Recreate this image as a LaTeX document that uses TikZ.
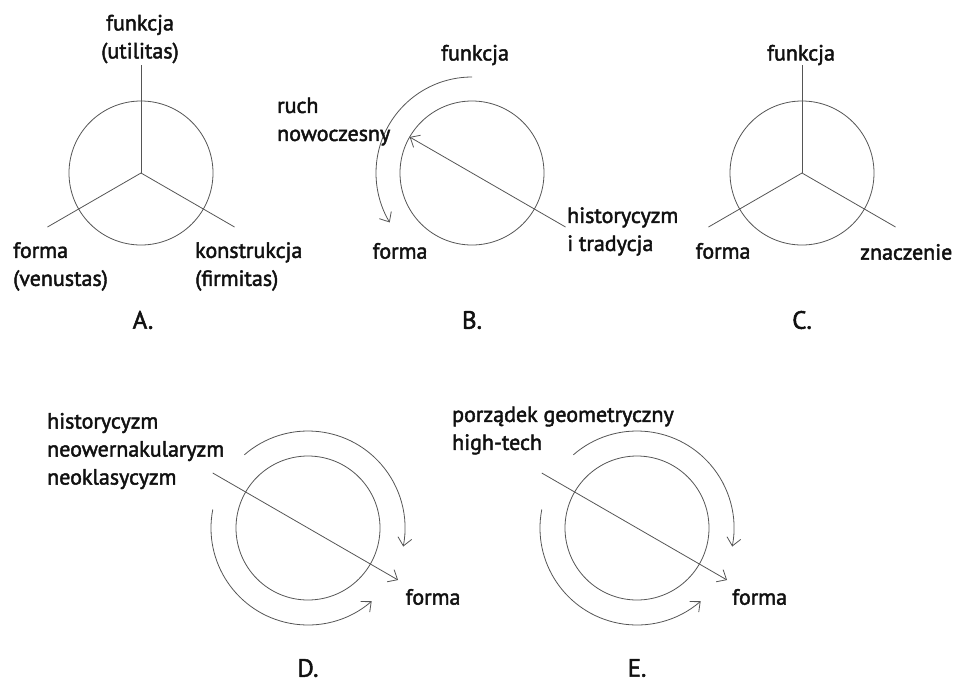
\documentclass[tikz,border=0pt]{standalone}
\usepackage{fontspec}
\setmainfont{PT Sans}[FakeBold=2]
\usepackage{tikz}
\usetikzlibrary{arrows.meta, calc}
\definecolor{inkline}{HTML}{555555}
\definecolor{inktext}{HTML}{111111}
\tikzstyle{ring} = [circle, draw=inkline, line width=0.8pt, minimum size=144pt, inner sep=0pt, outer sep=0pt]
\tikzstyle{spoke} = [draw=inkline, line width=0.8pt]
\tikzstyle{flow} = [draw=inkline, line width=0.8pt, -{Straight Barb[length=8pt, width=14pt]}]
\tikzstyle{lbl} = [inner sep=0pt, text=inktext, font=\fontsize{22}{28}\selectfont]
\tikzstyle{tag} = [inner sep=0pt, text=inktext, font=\fontsize{25}{30}\selectfont]

\begin{document}
\begin{tikzpicture}[x=1pt, y=1pt]
    \useasboundingbox (0,0) rectangle (957,-686);

    \node[ring] (kA) at (141,-173) {};
    \node[ring] (kB) at (472,-173) {};
    \node[ring] (kC) at (802,-173) {};
    \node[ring] (kD) at (308,-528) {};
    \node[ring] (kE) at (637,-528) {};

    \foreach \k in {kA, kC} {
        \foreach \a in {90, 210, 330} {
            \coordinate (\k-\a) at ($(\k.center)+(\a:108)$);
            \draw[spoke] (\k.center) -- (\k-\a);
        }
    }

    \coordinate (bArcS) at ($(kB.center)+(90:96)$);
    \coordinate (bTail) at ($(kB.center)+(-30:108)$);
    \draw[flow] (bArcS) arc[start angle=90, end angle=211, radius=96];
    \draw[flow] (bTail) -- (kB.150);

    \foreach \k in {kD, kE} {
        \coordinate (\k-top) at ($(\k.center)+(131:97)$);
        \coordinate (\k-bot) at ($(\k.center)+(169:97)$);
        \coordinate (\k-tail) at ($(\k.center)+(150:110)$);
        \coordinate (\k-tip) at ($(\k.center)+(-30:104)$);
        \draw[flow] (\k-top) arc[start angle=131, end angle=-11, radius=97];
        \draw[flow] (\k-bot) arc[start angle=169, end angle=311, radius=97];
        \draw[flow] (\k-tail) -- (\k-tip);
    }

    \node[lbl, align=center] (aFun) at (140,-39) {funkcja\\(utilitas)};
    \node[lbl, align=left, anchor=west] (aFor) at (13,-266.5) {forma\\(venustas)};
    \node[lbl, align=left, anchor=west] (aKon) at (195,-266.5) {konstrukcja\\(firmitas)};
    \node[tag] (aTag) at (143,-320) {A.};

    \node[lbl] (bFun) at (475,-55) {funkcja};
    \node[lbl, align=left, anchor=west] (bRuch) at (277,-121.5) {ruch\\nowoczesny};
    \node[lbl, align=left, anchor=west] (bHis) at (567,-231.5) {historycyzm\\i tradycja};
    \node[lbl] (bFor) at (400,-251) {forma};
    \node[tag] (bTag) at (472,-320) {B.};

    \node[lbl] (cFun) at (801,-55) {funkcja};
    \node[lbl] (cFor) at (723,-251) {forma};
    \node[lbl, anchor=west] (cZna) at (860,-252) {znaczenie};
    \node[tag] (cTag) at (802,-320) {C.};

    \node[lbl, align=left, anchor=west] (dHis) at (47,-451) {historycyzm\\neowernakularyzm\\neoklasycyzm};
    \node[lbl] (dFor) at (433,-597) {forma};
    \node[tag] (dTag) at (308,-668) {D.};

    \node[lbl, align=left, anchor=west] (ePor) at (452,-430.5) {porządek geometryczny\\high-tech};
    \node[lbl, anchor=west] (eFor) at (732,-597) {forma};
    \node[tag] (eTag) at (637,-668) {E.};
\end{tikzpicture}
\end{document}
